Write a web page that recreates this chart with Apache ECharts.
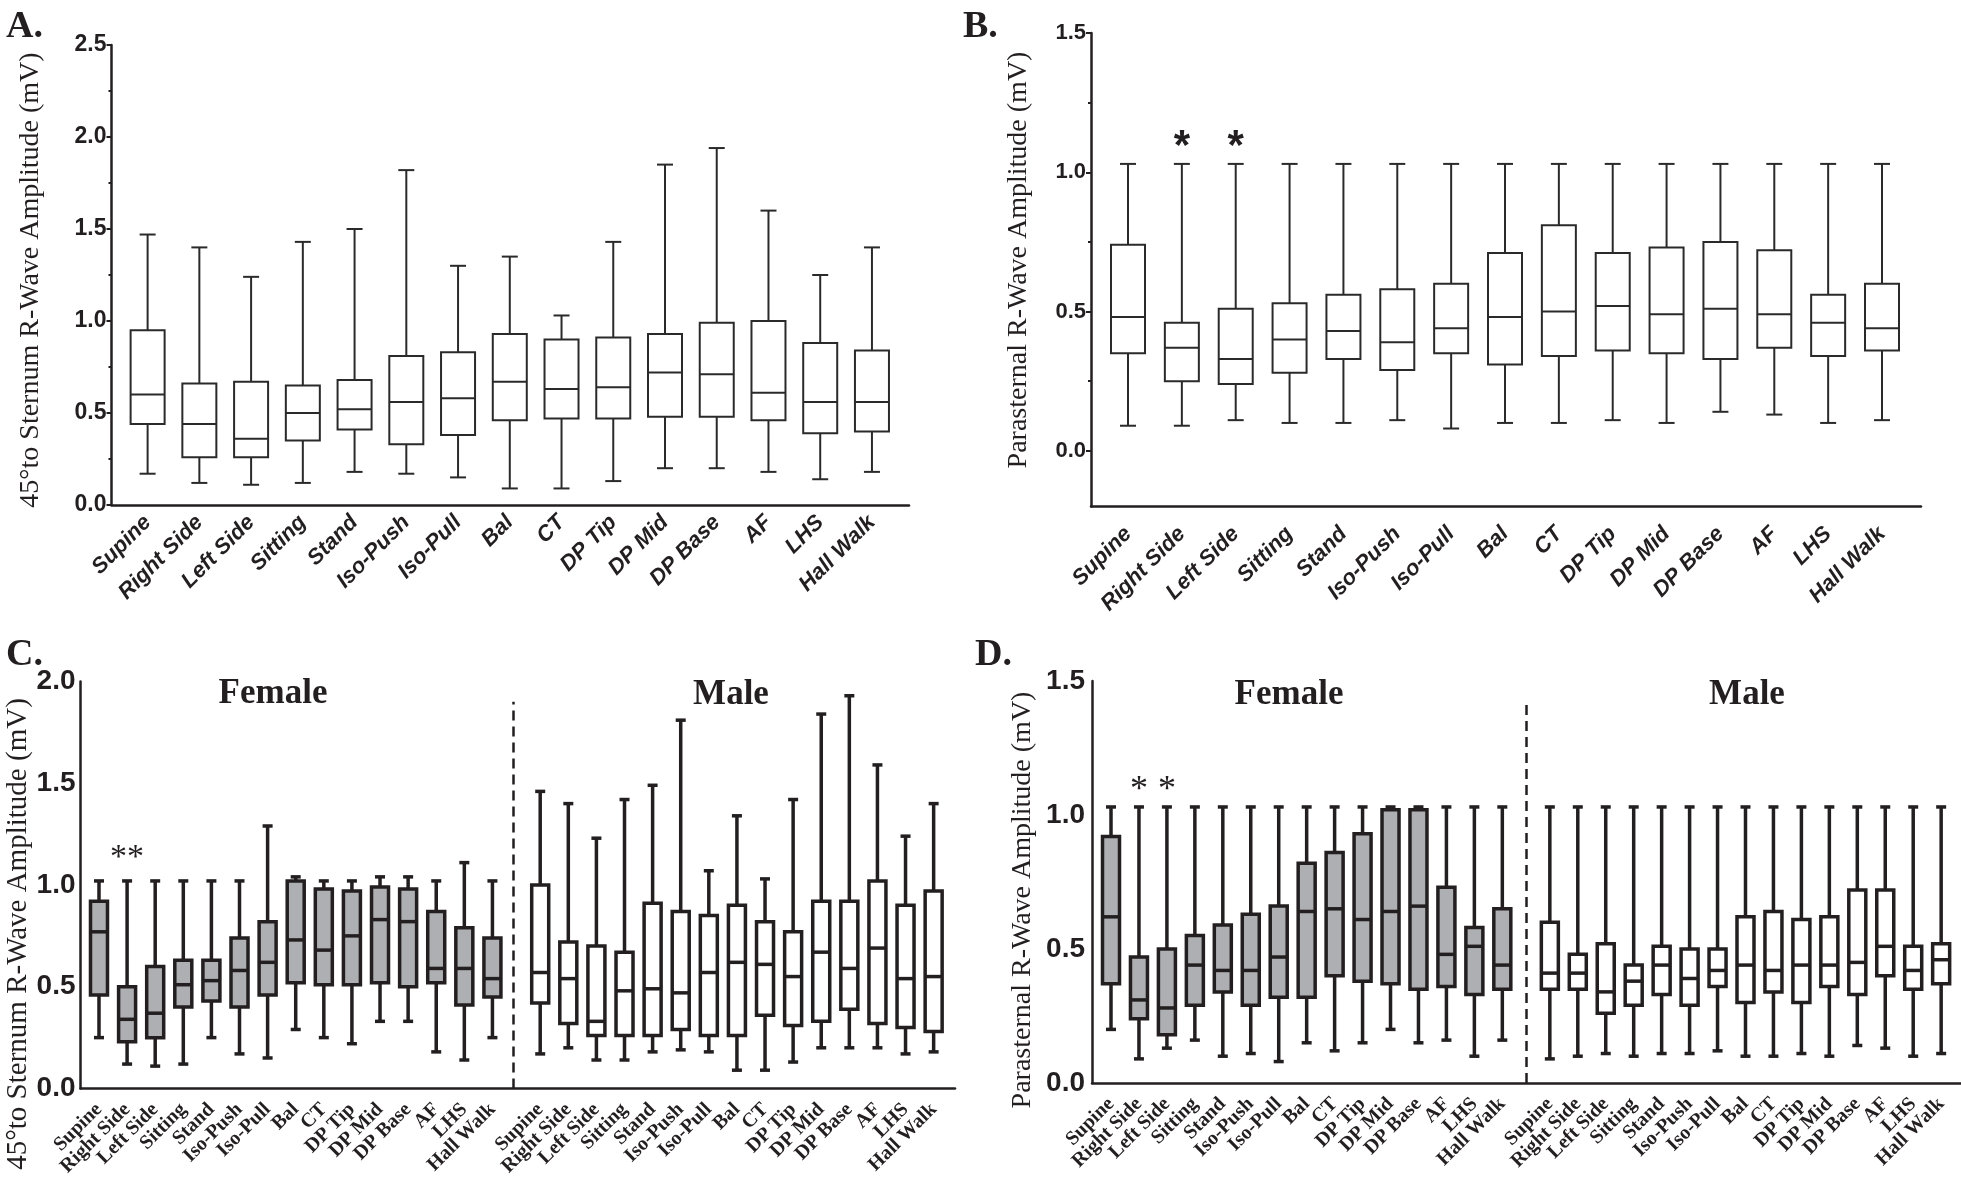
<!DOCTYPE html>
<html><head><meta charset="utf-8">
<script src="https://cdn.jsdelivr.net/npm/echarts@6/dist/echarts.min.js"></script>
<style>html,body{margin:0;padding:0;background:#fff}#c{width:1961px;height:1195px}</style>
</head><body><div id="c"></div>
<script>
// ---------- DATA ----------
const categories = ['Supine','Right Side','Left Side','Sitting','Stand','Iso-Push','Iso-Pull','Bal','CT','DP Tip','DP Mid','DP Base','AF','LHS','Hall Walk'];
// each row: [min, q1, median, q3, max]
const sternumAll = [
  [0.17,0.44,0.60,0.95,1.47],[0.12,0.26,0.44,0.66,1.40],[0.11,0.26,0.36,0.67,1.24],[0.12,0.35,0.50,0.65,1.43],
  [0.18,0.41,0.52,0.68,1.50],[0.17,0.33,0.56,0.81,1.82],[0.15,0.38,0.58,0.83,1.30],[0.09,0.46,0.67,0.93,1.35],
  [0.09,0.47,0.63,0.90,1.03],[0.13,0.47,0.64,0.91,1.43],[0.20,0.48,0.72,0.93,1.85],[0.20,0.48,0.71,0.99,1.94],
  [0.18,0.46,0.61,1.00,1.60],[0.14,0.39,0.56,0.88,1.25],[0.18,0.40,0.56,0.84,1.40]
];
const parasternalAll = [
  [0.09,0.35,0.48,0.74,1.03],[0.09,0.25,0.37,0.46,1.03],[0.11,0.24,0.33,0.51,1.03],[0.10,0.28,0.40,0.53,1.03],
  [0.10,0.33,0.43,0.56,1.03],[0.11,0.29,0.39,0.58,1.03],[0.08,0.35,0.44,0.60,1.03],[0.10,0.31,0.48,0.71,1.03],
  [0.10,0.34,0.50,0.81,1.03],[0.11,0.36,0.52,0.71,1.03],[0.10,0.35,0.49,0.73,1.03],[0.14,0.33,0.51,0.75,1.03],
  [0.13,0.37,0.49,0.72,1.03],[0.10,0.34,0.46,0.56,1.03],[0.11,0.36,0.44,0.60,1.03]
];
const sternumFemale = [
  [0.25,0.46,0.77,0.92,1.02],[0.12,0.23,0.34,0.50,1.02],[0.11,0.25,0.37,0.60,1.02],[0.12,0.40,0.51,0.63,1.02],
  [0.25,0.43,0.53,0.63,1.02],[0.17,0.40,0.58,0.74,1.02],[0.15,0.46,0.62,0.82,1.29],[0.29,0.52,0.73,1.02,1.04],
  [0.25,0.51,0.68,0.98,1.02],[0.22,0.51,0.75,0.97,1.02],[0.33,0.52,0.83,0.99,1.04],[0.33,0.50,0.82,0.98,1.04],
  [0.18,0.52,0.59,0.87,1.02],[0.14,0.41,0.59,0.79,1.11],[0.25,0.45,0.54,0.74,1.02]
];
const sternumMale = [
  [0.17,0.42,0.57,1.00,1.46],[0.20,0.32,0.54,0.72,1.40],[0.14,0.26,0.33,0.70,1.23],[0.14,0.26,0.48,0.67,1.42],
  [0.18,0.26,0.49,0.91,1.49],[0.19,0.29,0.47,0.87,1.81],[0.18,0.26,0.57,0.85,1.07],[0.09,0.26,0.62,0.90,1.34],
  [0.09,0.36,0.61,0.82,1.03],[0.13,0.31,0.55,0.77,1.42],[0.20,0.33,0.67,0.92,1.84],[0.20,0.39,0.59,0.92,1.93],
  [0.20,0.32,0.69,1.02,1.59],[0.17,0.30,0.54,0.90,1.24],[0.18,0.28,0.55,0.97,1.40]
];
const parasternalFemale = [
  [0.20,0.37,0.62,0.92,1.03],[0.09,0.24,0.31,0.47,1.03],[0.13,0.18,0.28,0.50,1.03],[0.16,0.29,0.44,0.55,1.03],
  [0.10,0.34,0.42,0.59,1.03],[0.11,0.29,0.42,0.63,1.03],[0.08,0.32,0.47,0.66,1.03],[0.15,0.32,0.64,0.82,1.03],
  [0.12,0.40,0.65,0.86,1.03],[0.15,0.38,0.61,0.93,1.03],[0.20,0.37,0.64,1.02,1.03],[0.15,0.35,0.66,1.02,1.03],
  [0.16,0.36,0.48,0.73,1.03],[0.10,0.33,0.51,0.58,1.03],[0.16,0.35,0.44,0.65,1.03]
];
const parasternalMale = [
  [0.09,0.35,0.41,0.60,1.03],[0.10,0.35,0.41,0.48,1.03],[0.11,0.26,0.34,0.52,1.03],[0.10,0.29,0.38,0.44,1.03],
  [0.11,0.33,0.44,0.51,1.03],[0.11,0.29,0.39,0.50,1.03],[0.12,0.36,0.42,0.50,1.03],[0.10,0.30,0.44,0.62,1.03],
  [0.10,0.34,0.42,0.64,1.03],[0.11,0.30,0.44,0.61,1.03],[0.10,0.36,0.44,0.62,1.03],[0.14,0.33,0.45,0.72,1.03],
  [0.13,0.40,0.51,0.72,1.03],[0.10,0.35,0.42,0.51,1.03],[0.11,0.37,0.46,0.52,1.03]
];
// significance marks: [category index, value]
const starsB = [[1,1.09],[2,1.09]];
const starsC = [[1,1.13]];
const starsD = [[1,1.09],[2,1.09]];
const ticksB = [0,0.5,1.0,1.5];
const minorB = [0.25,0.75,1.25];

// ---------- LAYOUT / STYLE ----------
const MALE_SHIFT = 15.7;
const SANS = "Liberation Sans, Arial, sans-serif";
const SERIF = "Liberation Serif, Times New Roman, serif";
const INK = '#231f20';
const GRAY = '#aeafb2';

function items(rows, shift){ return rows.map((r,i)=>[i+shift].concat(r)); }
const femPos = categories.map((_,i)=>i);
const malePos = categories.map((_,i)=>i+MALE_SHIFT);
function catName(v){ return v < 15 ? categories[Math.round(v)] : categories[Math.round(v-MALE_SHIFT)]; }

function boxRenderer(st){
  return function(params, api){
    const x = api.value(0);
    const pMin = api.coord([x, api.value(1)]);
    const pQ1 = api.coord([x, api.value(2)]);
    const pMed = api.coord([x, api.value(3)]);
    const pQ3 = api.coord([x, api.value(4)]);
    const pMax = api.coord([x, api.value(5)]);
    const cx = pMin[0], bw = st.boxW/2, cw = st.capW/2;
    const ls = {stroke: st.stroke, lineWidth: st.lw, fill: null};
    return {type:'group', children:[
      {type:'line', shape:{x1:cx,y1:pMax[1],x2:cx,y2:pQ3[1]}, style:ls},
      {type:'line', shape:{x1:cx,y1:pQ1[1],x2:cx,y2:pMin[1]}, style:ls},
      {type:'line', shape:{x1:cx-cw,y1:pMax[1],x2:cx+cw,y2:pMax[1]}, style:ls},
      {type:'line', shape:{x1:cx-cw,y1:pMin[1],x2:cx+cw,y2:pMin[1]}, style:ls},
      {type:'rect', shape:{x:cx-bw,y:pQ3[1],width:2*bw,height:pQ1[1]-pQ3[1]}, style:{fill:st.fill, stroke:st.stroke, lineWidth:st.lw}},
      {type:'line', shape:{x1:cx-bw,y1:pMed[1],x2:cx+bw,y2:pMed[1]}, style:{stroke:st.stroke, lineWidth:st.lw}}
    ]};
  };
}
function starRenderer(txt, font, size, weight){
  return function(params, api){
    const p = api.coord([api.value(0), api.value(1)]);
    return {type:'text', x:p[0], y:p[1], style:{text:txt, fontFamily:font, fontSize:size, fontWeight:weight, fill:INK, align:'center', verticalAlign:'middle'}};
  };
}
// rotated category label drawn at the axis position (used where the axis would drop overlapping labels)
function catLabelRenderer(margin, font, size){
  return function(params, api){
    const p = api.coord([api.value(0), 0]);
    return {type:'text', x:p[0], y:p[1]+margin, rotation:Math.PI/4,
      style:{text:catName(api.value(0)), fontFamily:font, fontSize:size, fontWeight:'bold', fill:INK, align:'right', verticalAlign:'middle'}};
  };
}

const thin = {boxW:34, capW:16, lw:2, stroke:'#2a2a2a', fill:'#fff'};
const thickW = {boxW:17, capW:10, lw:3.5, stroke:INK, fill:'#fff'};
const thickG = {boxW:17, capW:10, lw:3.5, stroke:INK, fill:GRAY};

function xAxisCfg(grid, min, max, values, opts){
  return {type:'value', gridIndex:grid, min:min, max:max,
    axisLine:{show:true, onZero:false, lineStyle:{color:INK, width:2.5}},
    axisTick:{show:false}, splitLine:{show:false},
    axisLabel:{show:opts.show !== false, customValues:values, rotate:45, margin:opts.margin, formatter:catName,
      showMinLabel:true, showMaxLabel:true, hideOverlap:false,
      color:INK, fontFamily:opts.font, fontWeight:'bold', fontStyle:opts.italic?'italic':'normal', fontSize:opts.size}};
}
function yLine(){ return {show:true, onZero:false, lineStyle:{color:INK, width:2.5}}; }
const yLab = (size, margin, extra) => Object.assign({margin:margin, formatter:v=>v.toFixed(1), color:INK, fontFamily:SANS, fontWeight:'bold', fontSize:size, showMinLabel:true, showMaxLabel:true}, extra||{});

const chart = echarts.init(document.getElementById('c'), null, {renderer:'canvas'});
const option = {
  backgroundColor:'#fff',
  animation:false,
  grid:[
    {left:111.5, top:45, width:797.5, height:460},
    {left:1091, top:33, width:830, height:473.5},
    {left:80.5, top:681.5, width:874.5, height:407},
    {left:1092, top:681, width:869, height:402}
  ],
  xAxis:[
    xAxisCfg(0, -0.698, 14.716, femPos, {margin:14, font:SANS, italic:true, size:22}),
    xAxisCfg(1, -0.687, 14.724, femPos, {margin:24, font:SANS, italic:true, size:22}),
    xAxisCfg(2, -0.658, 30.46, femPos.concat(malePos), {margin:18, font:SERIF, italic:false, size:20}),
    xAxisCfg(3, -0.68, 30.41, femPos.concat(malePos), {show:false, margin:18, font:SERIF, italic:false, size:20})
  ],
  yAxis:[
    {type:'value', gridIndex:0, min:0, max:2.5, interval:0.5, axisLine:yLine(),
      axisTick:{show:true, length:5, lineStyle:{color:INK, width:2}},
      minorTick:{show:true, splitNumber:2, length:3, lineStyle:{color:INK, width:2}},
      splitLine:{show:false}, axisLabel:yLab(23,5)},
    {type:'value', gridIndex:1, min:-0.2, max:1.5, axisLine:yLine(),
      axisTick:{show:true, length:5, customValues:ticksB, lineStyle:{color:INK, width:2}},
      splitLine:{show:false}, axisLabel:yLab(22,5,{customValues:ticksB})},
    {type:'value', gridIndex:2, min:0, max:2.0, interval:0.5, axisLine:yLine(),
      axisTick:{show:false}, splitLine:{show:false}, axisLabel:yLab(28,5)},
    {type:'value', gridIndex:3, min:0, max:1.5, interval:0.5, axisLine:yLine(),
      axisTick:{show:false}, splitLine:{show:false}, axisLabel:yLab(28,7)},
    {type:'value', gridIndex:1, min:-0.2, max:1.5, position:'left',
      axisLine:{show:false, onZero:false}, splitLine:{show:false}, axisLabel:{show:false},
      axisTick:{show:true, length:3, customValues:minorB, lineStyle:{color:INK, width:2}}}
  ],
  series:[
    {type:'custom', xAxisIndex:0, yAxisIndex:0, data:items(sternumAll,0), encode:{x:0,y:[1,2,3,4,5]}, renderItem:boxRenderer(thin), clip:false},
    {type:'custom', xAxisIndex:1, yAxisIndex:1, data:items(parasternalAll,0), encode:{x:0,y:[1,2,3,4,5]}, renderItem:boxRenderer(thin), clip:false},
    {type:'custom', xAxisIndex:2, yAxisIndex:2, data:items(sternumFemale,0), encode:{x:0,y:[1,2,3,4,5]}, renderItem:boxRenderer(thickG), clip:false,
      markLine:{silent:true, symbol:['none','none'], label:{show:false}, lineStyle:{color:INK, width:2.5, type:[10,6]},
        data:[[{coord:[14.73,0]},{coord:[14.73,1.9]}]]}},
    {type:'custom', xAxisIndex:2, yAxisIndex:2, data:items(sternumMale,MALE_SHIFT), encode:{x:0,y:[1,2,3,4,5]}, renderItem:boxRenderer(thickW), clip:false},
    {type:'custom', xAxisIndex:3, yAxisIndex:3, data:items(parasternalFemale,0), encode:{x:0,y:[1,2,3,4,5]}, renderItem:boxRenderer(thickG), clip:false,
      markLine:{silent:true, symbol:['none','none'], label:{show:false}, lineStyle:{color:INK, width:2.5, type:[10,6]},
        data:[[{coord:[14.85,0]},{coord:[14.85,1.42]}]]}},
    {type:'custom', xAxisIndex:3, yAxisIndex:3, data:items(parasternalMale,MALE_SHIFT), encode:{x:0,y:[1,2,3,4,5]}, renderItem:boxRenderer(thickW), clip:false},
    {type:'custom', xAxisIndex:3, yAxisIndex:3, data:femPos.concat(malePos).map(p=>[p]), encode:{x:0}, renderItem:catLabelRenderer(18, SERIF, 20), clip:false, silent:true},
    {type:'custom', xAxisIndex:1, yAxisIndex:1, data:starsB, encode:{x:0,y:1}, renderItem:starRenderer('*', SANS, 42, 'bold'), clip:false},
    {type:'custom', xAxisIndex:2, yAxisIndex:2, data:starsC, encode:{x:0,y:1}, renderItem:starRenderer('**', SERIF, 34, 'normal'), clip:false},
    {type:'custom', xAxisIndex:3, yAxisIndex:3, data:starsD, encode:{x:0,y:1}, renderItem:starRenderer('*', SERIF, 36, 'normal'), clip:false}
  ],
  graphic:[
    {type:'text', left:6, top:8, style:{text:'A.', font:'bold 38px '+SERIF, fill:INK}},
    {type:'text', left:963, top:8, style:{text:'B.', font:'bold 38px '+SERIF, fill:INK}},
    {type:'text', left:6, top:636, style:{text:'C.', font:'bold 38px '+SERIF, fill:INK}},
    {type:'text', left:975, top:636, style:{text:'D.', font:'bold 38px '+SERIF, fill:INK}},
    {type:'text', x:31, y:280, rotation:Math.PI/2, style:{text:'45°to Sternum R-Wave Amplitude (mV)', font:'28px '+SERIF, fill:INK, align:'center', verticalAlign:'middle'}},
    {type:'text', x:1019, y:260, rotation:Math.PI/2, style:{text:'Parasternal R-Wave Amplitude (mV)', font:'28px '+SERIF, fill:INK, align:'center', verticalAlign:'middle'}},
    {type:'text', x:18, y:934, rotation:Math.PI/2, style:{text:'45°to Sternum R-Wave Amplitude (mV)', font:'29px '+SERIF, fill:INK, align:'center', verticalAlign:'middle'}},
    {type:'text', x:1023, y:900, rotation:Math.PI/2, style:{text:'Parasternal R-Wave Amplitude (mV)', font:'28px '+SERIF, fill:INK, align:'center', verticalAlign:'middle'}},
    {type:'text', x:273, y:694, style:{text:'Female', font:'bold 35px '+SERIF, fill:INK, align:'center', verticalAlign:'middle'}},
    {type:'text', x:731, y:695, style:{text:'Male', font:'bold 35px '+SERIF, fill:INK, align:'center', verticalAlign:'middle'}},
    {type:'text', x:1289, y:695, style:{text:'Female', font:'bold 35px '+SERIF, fill:INK, align:'center', verticalAlign:'middle'}},
    {type:'text', x:1747, y:695, style:{text:'Male', font:'bold 35px '+SERIF, fill:INK, align:'center', verticalAlign:'middle'}}
  ]
};
chart.setOption(option);
</script></body></html>
